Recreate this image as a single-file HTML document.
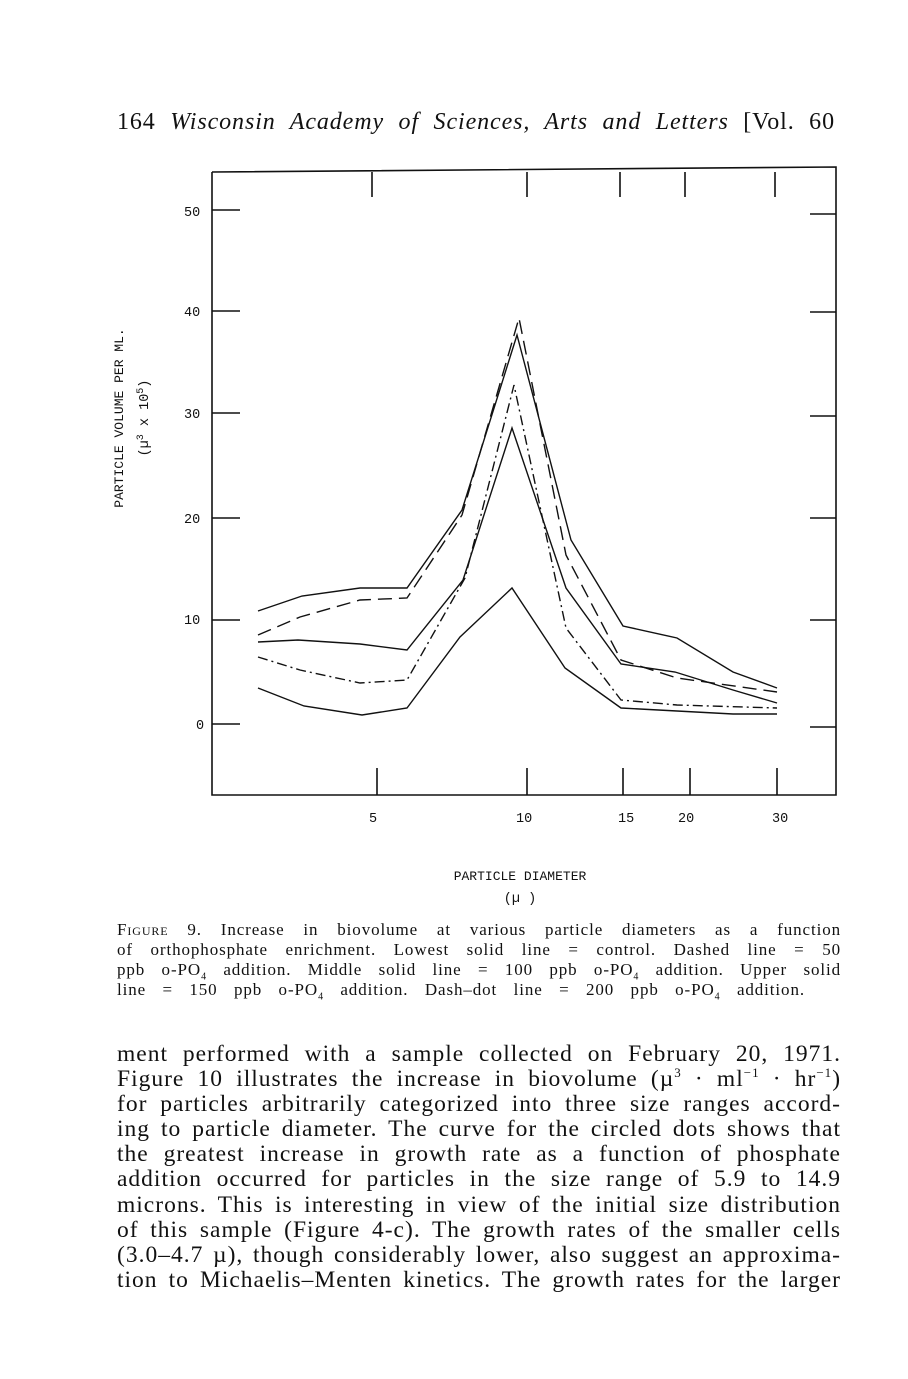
<!DOCTYPE html>
<html><head><meta charset="utf-8"><style>
body{margin:0;width:908px;height:1379px;background:#fff;position:relative;overflow:hidden;font-family:"Liberation Serif",serif;color:#111}
.j{text-align:justify;text-align-last:justify;white-space:nowrap}
.hdr{position:absolute;left:117px;top:109px;width:718px;font-size:24px;letter-spacing:0.9px}
.cap{position:absolute;left:117px;top:920px;width:724px;font-size:17px;line-height:20px;letter-spacing:0.9px}
.body{position:absolute;left:117px;top:1042px;width:724px;font-size:23.5px;line-height:25.1px;letter-spacing:1px}
.sc{font-variant:small-caps}
sub{font-size:10px;line-height:0}
</style></head><body>
<div class="hdr j">164 <i>Wisconsin Academy of Sciences, Arts and Letters</i> [Vol. 60</div>
<svg width="908" height="1379" style="position:absolute;left:0;top:0" font-family="Liberation Mono, monospace" font-size="13.5">
<g stroke="#111" stroke-width="1.6" fill="none">
<polyline points="212,172 836,167 836,795 212,795 212,172"/>
<path d="M372,172V197M527,172V197M620,172V197M685,172V197M775,172V197M377,768V795M527,768V795M623,768V795M690,768V795M777,768V795"/>
<path d="M212,210H240M212,311H240M212,413H240M212,518H240M212,620H240M212,724H240M810,214H836M810,312H836M810,416H836M810,518H836M810,620H836M810,727H836"/>
<g stroke-width="1.4">
<polyline points="258,688 304,706 362,715 407,708 460,637 512,588 565,668 621,708 677,711 733,714 777,714"/>
<polyline points="258,642 298,640 360,644 407,650 463,580 512,428 566,588 621,664 675,672 733,690 777,703"/>
<polyline points="258,611 302,596 360,588 407,588 462,510 517,335 571,540 623,626 677,638 733,672 777,688"/>
<polyline stroke-dasharray="14,7" points="258,635 300,617 360,600 407,598 462,515 519,318 566,555 621,660 677,678 777,692"/>
<polyline stroke-dasharray="10,4,2,4" points="258,657 300,670 360,683 407,680 465,578 514,385 566,628 621,700 677,705 777,708"/>
</g></g>
<g fill="#111">
<text x="184" y="216">50</text><text x="184" y="316">40</text><text x="184" y="418">30</text><text x="184" y="523">20</text><text x="184" y="624">10</text><text x="196" y="729">0</text>
<text x="369" y="822">5</text><text x="516" y="822">10</text><text x="618" y="822">15</text><text x="678" y="822">20</text><text x="772" y="822">30</text>
<text x="520" y="880" text-anchor="middle" font-size="13">PARTICLE DIAMETER</text>
<text x="520" y="902" text-anchor="middle">(µ )</text>
<text transform="translate(123,418) rotate(-90)" text-anchor="middle" font-size="13">PARTICLE VOLUME PER ML.</text>
<text transform="translate(148,418) rotate(-90)" text-anchor="middle">(µ<tspan dy="-5" font-size="10">3</tspan><tspan dy="5"> x 10</tspan><tspan dy="-5" font-size="10">5</tspan><tspan dy="5">)</tspan></text>
</g></svg>
<div class="cap">
<div class="j"><span class="sc">Figure</span> 9. Increase in biovolume at various particle diameters as a function</div>
<div class="j">of orthophosphate enrichment. Lowest solid line = control. Dashed line = 50</div>
<div class="j">ppb o-PO<sub>4</sub> addition. Middle solid line = 100 ppb o-PO<sub>4</sub> addition. Upper solid</div>
<div class="j" style="width:688px">line = 150 ppb o-PO<sub>4</sub> addition. Dash–dot line = 200 ppb o-PO<sub>4</sub> addition.</div>
</div>
<div class="body">
<div class="j">ment performed with a sample collected on February 20, 1971.</div>
<div class="j">Figure 10 illustrates the increase in biovolume (µ<sup style="font-size:13px;line-height:0">3</sup> · ml<sup style="font-size:13px;line-height:0">−1</sup> · hr<sup style="font-size:13px;line-height:0">−1</sup>)</div>
<div class="j">for particles arbitrarily categorized into three size ranges accord-</div>
<div class="j">ing to particle diameter. The curve for the circled dots shows that</div>
<div class="j">the greatest increase in growth rate as a function of phosphate</div>
<div class="j">addition occurred for particles in the size range of 5.9 to 14.9</div>
<div class="j">microns. This is interesting in view of the initial size distribution</div>
<div class="j">of this sample (Figure 4-c). The growth rates of the smaller cells</div>
<div class="j">(3.0–4.7 µ), though considerably lower, also suggest an approxima-</div>
<div class="j">tion to Michaelis–Menten kinetics. The growth rates for the larger</div>
</div>
</body></html>
